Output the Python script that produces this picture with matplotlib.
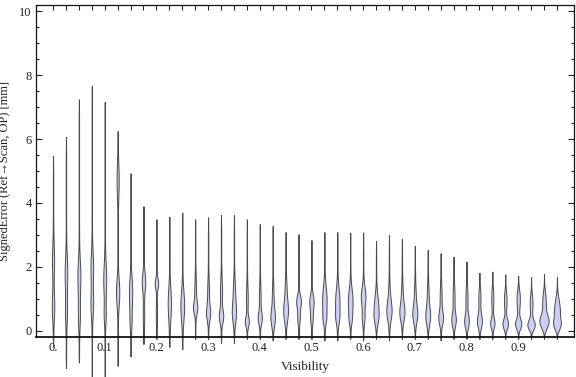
import numpy as np
import matplotlib
matplotlib.use("Agg")
import matplotlib.pyplot as plt
from matplotlib.ticker import MultipleLocator, FixedLocator

# ---- data ----
visibility = [0.000, 0.025, 0.050, 0.075, 0.100, 0.125, 0.150, 0.175, 0.200, 0.225,
              0.250, 0.275, 0.300, 0.325, 0.350, 0.375, 0.400, 0.425, 0.450, 0.475,
              0.500, 0.525, 0.550, 0.575, 0.600, 0.625, 0.650, 0.675, 0.700, 0.725,
              0.750, 0.775, 0.800, 0.825, 0.850, 0.875, 0.900, 0.925, 0.950, 0.975]
err_min = [-0.49, -1.16, -0.99, -1.65, -1.65, -1.09, -0.80, -0.41, -0.25, -0.50,
           -0.57, -0.25, -0.25, -0.38, -0.38, -0.25, -0.25, -0.30, -0.25, -0.25,
           -0.25, -0.30, -0.30, -0.25, -0.30, -0.25, -0.30, -0.25, -0.25, -0.25,
           -0.30, -0.25, -0.25, -0.25, -0.25, -0.25, -0.25, -0.25, -0.25, -0.25]
err_max = [5.47, 6.06, 7.24, 7.66, 7.16, 6.25, 4.93, 3.90, 3.49, 3.57,
           3.70, 3.49, 3.55, 3.62, 3.62, 3.49, 3.34, 3.28, 3.09, 3.02,
           2.84, 3.09, 3.09, 3.07, 3.08, 2.82, 3.00, 2.88, 2.66, 2.53,
           2.43, 2.32, 2.17, 1.82, 1.85, 1.77, 1.72, 1.68, 1.78, 1.68]
# main mode of each distribution: location, half-width (px), spread
mode1_y = [0.76, 1.80, 1.70, 2.00, 1.60, 1.20, 1.20, 1.54, 1.49, 1.00,
           0.90, 0.72, 0.56, 0.45, 0.56, 0.29, 0.40, 0.40, 0.60, 0.92,
           0.92, 0.97, 0.92, 0.95, 1.07, 0.76, 0.60, 0.56, 0.51, 0.45,
           0.40, 0.34, 0.30, 0.30, 0.24, 0.22, 0.22, 0.19, 0.30, 0.60]
mode1_w = [1.2, 1.3, 1.5, 1.3, 1.5, 1.7, 1.7, 1.8, 1.8, 1.3,
           1.5, 2.0, 2.0, 2.2, 2.0, 2.0, 2.0, 2.2, 2.3, 2.5,
           2.3, 2.4, 2.3, 2.5, 2.5, 2.3, 2.3, 2.3, 2.3, 2.3,
           2.3, 2.2, 2.4, 2.6, 2.3, 3.0, 3.3, 4.0, 5.0, 3.3]
mode1_s = [0.40, 0.50, 0.50, 0.45, 0.50, 0.40, 0.45, 0.29, 0.16, 0.40,
           0.40, 0.18, 0.23, 0.20, 0.30, 0.15, 0.18, 0.25, 0.30, 0.20,
           0.22, 0.40, 0.40, 0.35, 0.30, 0.35, 0.28, 0.25, 0.25, 0.25,
           0.20, 0.20, 0.20, 0.20, 0.15, 0.15, 0.15, 0.15, 0.20, 0.35]
# secondary mode
mode2_y = [2.20, 0.60, 0.50, 0.85, 0.50, 4.70, 0.30, 0.50, 0.50, 0.50,
           0.50, 1.20, 1.20, 1.20, 1.20, 1.00, 1.00, 1.00, 1.20, 0.40,
           0.40, 0.40, 0.40, 0.40, 0.40, 0.40, 1.00, 1.00, 1.00, 1.00,
           1.00, 1.00, 1.00, 1.00, 1.00, 0.95, 1.00, 0.85, 0.90, 0.20]
mode2_w = [1.0, 0.9, 0.9, 1.3, 0.9, 1.0, 0.8, 0.6, 0.5, 0.7,
           0.7, 0.8, 0.8, 1.0, 1.0, 0.8, 0.8, 0.8, 0.9, 1.2,
           1.2, 1.2, 1.2, 1.2, 1.2, 1.2, 0.9, 0.9, 0.9, 0.9,
           0.9, 0.9, 1.0, 1.0, 1.0, 1.3, 1.7, 1.4, 1.8, 2.5]
mode2_s = [0.50, 0.40, 0.40, 0.40, 0.30, 0.50, 0.30, 0.40, 0.40, 0.40,
           0.40, 0.40, 0.40, 0.40, 0.40, 0.40, 0.40, 0.40, 0.40, 0.20,
           0.20, 0.20, 0.20, 0.20, 0.20, 0.20, 0.40, 0.40, 0.40, 0.40,
           0.40, 0.40, 0.35, 0.35, 0.35, 0.30, 0.35, 0.30, 0.30, 0.15]

x_tick_vals = [0.0, 0.1, 0.2, 0.3, 0.4, 0.5, 0.6, 0.7, 0.8, 0.9]
x_tick_labels = ["0.", "0.1", "0.2", "0.3", "0.4", "0.5", "0.6", "0.7", "0.8", "0.9"]
y_tick_vals = [0, 2, 4, 6, 8, 10]

# ---- figure ----
plt.rcParams['font.family'] = ['Liberation Serif', 'DejaVu Serif']
fig = plt.figure(figsize=(5.76, 3.77), dpi=100)
ax = fig.add_axes([0.0625, 0.107, 0.934, 0.8805])

PX = 0.025 / 12.93     # one pixel in x data units
TAIL = 0.2             # half-width of thin tails (px)
SCALE = 0.85           # compensates for outline thickness
FILL = '#c8d0f5'
EDGE = '#4a4a4a'

for i, xv in enumerate(visibility):
    b, t = err_min[i], err_max[i]
    y = np.linspace(b, t, 600)
    hw = (TAIL
          + SCALE * mode1_w[i] * np.exp(-0.5 * ((y - mode1_y[i]) / mode1_s[i]) ** 2)
          + SCALE * mode2_w[i] * np.exp(-0.5 * ((y - mode2_y[i]) / mode2_s[i]) ** 2))
    env = np.clip((y - b) / 0.25, 0, 1) ** 0.8 * np.clip((t - y) / 0.6, 0, 1) ** 0.8
    hw = hw * env * PX
    ax.fill_betweenx(y, xv - hw, xv + hw, facecolor=FILL, edgecolor=EDGE,
                     linewidth=0.7, clip_on=False, zorder=3)

ax.set_xlim(-0.033, 1.008)
ax.set_ylim(-0.18, 10.2)

ax.xaxis.set_major_locator(FixedLocator(x_tick_vals))
ax.set_xticklabels(x_tick_labels)
ax.xaxis.set_minor_locator(FixedLocator(visibility))
ax.yaxis.set_major_locator(FixedLocator(y_tick_vals))
ax.yaxis.set_minor_locator(MultipleLocator(0.5))

ax.tick_params(axis='both', which='both', direction='in', top=True, right=True,
               labelsize=9, colors='#222222', width=0.8)
ax.tick_params(axis='x', which='major', length=3.6, pad=4)
ax.tick_params(axis='x', which='minor', length=3.6)
ax.tick_params(axis='y', which='major', length=4.0, pad=3)
ax.tick_params(axis='y', which='minor', length=2.4)

for s in ax.spines.values():
    s.set_linewidth(0.9)
    s.set_color('#111111')
ax.spines['bottom'].set_linewidth(1.3)
ax.spines['bottom'].set_zorder(4)

ax.set_xlabel("Visibility", fontsize=9.5, labelpad=5, color='#222222')
ax.set_ylabel("SignedError (Ref\u2192Scan, OP) [mm]", fontsize=9, labelpad=6, color='#222222')

fig.savefig("out.png", dpi=100)
